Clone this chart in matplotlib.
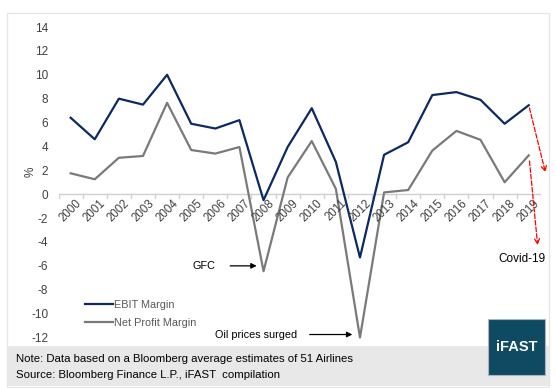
import matplotlib.pyplot as plt
from matplotlib.patches import Rectangle

plt.rcParams['font.family'] = ['Liberation Sans', 'DejaVu Sans']

years = [str(y) for y in range(2000, 2020)]
ebit_margin = [6.4, 4.6, 8.0, 7.5, 10.0, 5.9, 5.5, 6.2, -0.5, 3.95,
               7.2, 2.7, -5.3, 3.3, 4.35, 8.3, 8.55, 7.9, 5.9, 7.45]
net_margin = [1.75, 1.25, 3.05, 3.2, 7.65, 3.7, 3.4, 3.95, -6.45, 1.4,
              4.45, 0.45, -12.0, 0.15, 0.35, 3.65, 5.3, 4.55, 1.0, 3.25]
yticks = list(range(-12, 16, 2))

W, H = 556, 388
fig = plt.figure(figsize=(W / 100, H / 100), dpi=100)

def fx(px):
    return px / W

def fy(py):
    return 1 - py / H

# outer panel, footer band and logo
fig.patches.append(Rectangle((fx(7), fy(387)), fx(542), fy(13) - fy(387),
                             transform=fig.transFigure, facecolor='white',
                             edgecolor='#e6e6e6', lw=1, zorder=0))
fig.patches.append(Rectangle((fx(7), fy(386)), fx(542), fy(346) - fy(386),
                             transform=fig.transFigure, facecolor='#e8e8e8',
                             edgecolor='none', zorder=1))
fig.patches.append(Rectangle((fx(488), fy(375)), fx(57), fy(319) - fy(375),
                             transform=fig.transFigure, facecolor='#0f4a63',
                             edgecolor='#a9b8c0', lw=0.8, zorder=3))
fig.text(fx(516.5), fy(347), 'iFAST', color='white', fontsize=10.5,
         fontweight='bold', ha='center', va='center', zorder=4)
fig.text(fx(16), fy(359), 'Note: Data based on a Bloomberg average estimates of 51 Airlines',
         fontsize=8.2, color='black', va='center', zorder=4)
fig.text(fx(16), fy(375), 'Source: Bloomberg Finance L.P., iFAST  compilation',
         fontsize=8.2, color='black', va='center', zorder=4)

ax = fig.add_axes([fx(58.6), fy(337.5), fx(540.8) - fx(58.6), fy(27) - fy(337.5)])
ax.set_zorder(2)
ax.set_facecolor('none')
x = list(range(len(years)))
ax.plot(x, ebit_margin, color='#0b2a63', lw=1.6, label='EBIT Margin', clip_on=False)
ax.plot(x, net_margin, color='#7a7a7a', lw=1.6, label='Net Profit Margin', clip_on=False)

ax.set_xlim(-0.5, len(years) - 0.5)
ax.set_ylim(-12, 14)
ax.set_yticks(yticks)
ax.set_yticklabels([str(v) for v in yticks], fontsize=8.5, color='#404040')
ax.tick_params(axis='y', length=0, pad=7.5)
for s in ax.spines.values():
    s.set_visible(False)
ax.axhline(0, color='#d0d0d0', lw=1, zorder=0)
ax.set_xticks([])
for i in range(len(years) + 1):
    ax.plot([i - 0.5, i - 0.5], [0, -0.3], color='#d0d0d0', lw=1, zorder=0)
for i, yr in enumerate(years):
    ax.text(i + 0.2, -0.25, yr, rotation=45, ha='right', va='top',
            fontsize=8.3, color='#404040', rotation_mode='anchor')
ax.set_ylabel('%', fontsize=8.5, color='#404040', labelpad=2)
ax.yaxis.set_label_coords(-0.046, 0.533)

# annotations
ax.annotate('', xy=(7.83, -6.0), xytext=(6.5, -6.0),
            arrowprops=dict(arrowstyle='-|>', color='black', lw=0.9, mutation_scale=8))
ax.text(6.0, -6.0, 'GFC', fontsize=7.8, ha='right', va='center')
ax.annotate('', xy=(11.8, -11.75), xytext=(9.8, -11.75),
            arrowprops=dict(arrowstyle='-|>', color='black', lw=0.9, mutation_scale=8))
ax.text(9.4, -11.75, 'Oil prices surged', fontsize=7.8, ha='right', va='center')
ax.annotate('', xy=(19.72, 1.6), xytext=(19.0, 7.45),
            arrowprops=dict(arrowstyle='->', color='red', lw=0.9, ls='--',
                            mutation_scale=9), annotation_clip=False)
ax.annotate('', xy=(19.38, -4.5), xytext=(19.02, 3.0),
            arrowprops=dict(arrowstyle='->', color='red', lw=0.9, ls='--',
                            mutation_scale=9), annotation_clip=False)
ax.text(19.7, -5.4, 'Covid-19', fontsize=8.5, ha='right', va='center')

ax.legend(loc='lower left', bbox_to_anchor=(0.035, 0.0), frameon=False,
          fontsize=7.8, handlelength=2.6, handletextpad=0.1,
          labelspacing=0.7, labelcolor='#595959')

fig.savefig('out.png', dpi=100)
